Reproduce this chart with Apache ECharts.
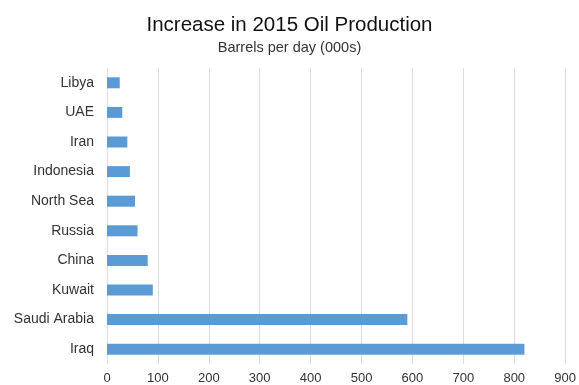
<!DOCTYPE html>
<html><head><meta charset="utf-8">
<script src="https://cdn.jsdelivr.net/npm/echarts@6/dist/echarts.min.js"></script>
<style>html,body{margin:0;padding:0;background:#fff}#c{width:579px;height:385px}</style>
</head><body><div id="c"></div>
<script>
const categories = ["Iraq","Saudi Arabia","Kuwait","China","Russia","North Sea","Indonesia","Iran","UAE","Libya"];
const values = [820,590,90,80,60,55,45,40,30,25];
const xTicks = [0,100,200,300,400,500,600,700,800,900];

const chart = echarts.init(document.getElementById('c'));
chart.setOption({
  animation:false,
  title:{
    text:"Increase in 2015 Oil Production",
    subtext:"Barrels per day (000s)",
    left:'center', top:10, itemGap:4,
    textStyle:{fontFamily:'Liberation Sans',fontSize:20.5,fontWeight:'normal',color:'#111'},
    subtextStyle:{fontFamily:'Liberation Sans',fontSize:14.5,color:'#333'}
  },
  grid:{left:107,right:10,top:68,bottom:21,containLabel:false},
  xAxis:{
    type:'value',min:xTicks[0],max:xTicks[xTicks.length-1],interval:100,
    axisLine:{show:false},axisTick:{show:false},
    splitLine:{lineStyle:{color:'#dcdcdc',width:1}},
    axisLabel:{fontFamily:'Liberation Sans',fontSize:13,color:'#333',margin:8}
  },
  yAxis:{
    type:'category',data:categories,
    axisLine:{show:false},axisTick:{show:false},
    axisLabel:{fontFamily:'Liberation Sans',fontSize:14,color:'#333',margin:13}
  },
  series:[{type:'bar',data:values,barWidth:11,itemStyle:{color:'#5b9bd5'}}]
});
</script></body></html>
